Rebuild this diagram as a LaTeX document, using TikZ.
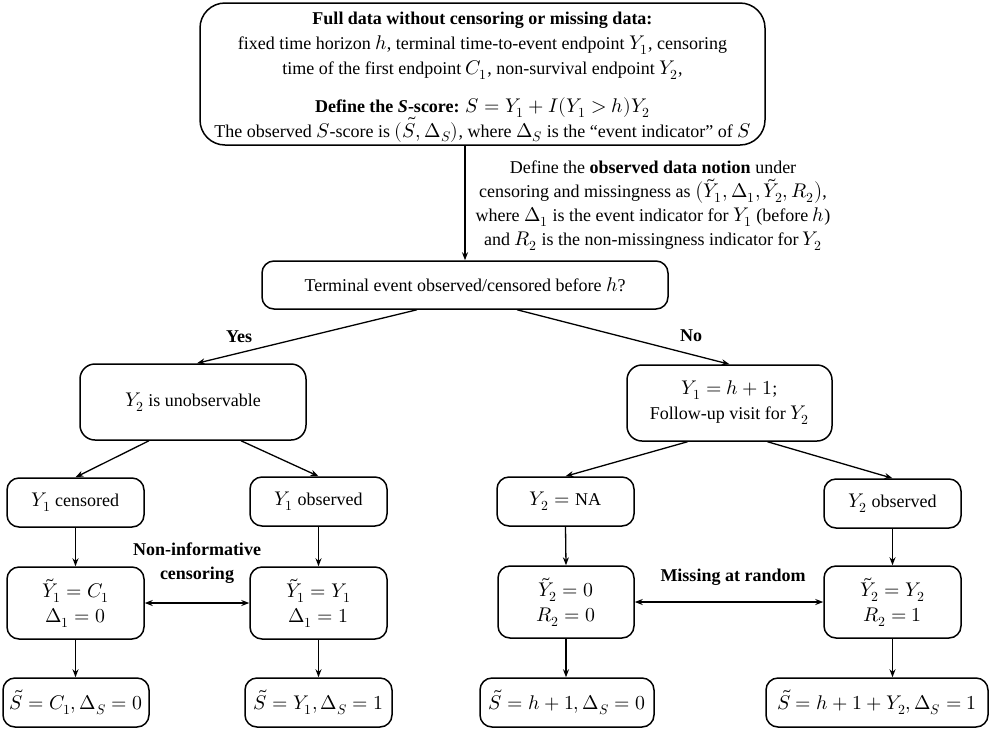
\documentclass[tikz,border=0pt]{standalone}
\usepackage{fontspec}
\usepackage{amsmath}
\usepackage{unicode-math}
\setmainfont{Liberation Serif}
\setmathfont{Latin Modern Math}[Scale=1.1]
\usetikzlibrary{arrows.meta,calc}
\begin{document}
\begin{tikzpicture}[x=1pt,y=-1pt,
  box/.style={draw,line width=1.5pt,rounded corners=12pt,align=center,inner sep=0pt,font=\fontsize{18}{25}\selectfont},
  arr/.style={line width=1.3pt,-{Stealth[length=8pt,width=6pt]}},
  darr/.style={line width=1.3pt,{Stealth[length=8pt,width=6pt]}-{Stealth[length=8pt,width=6pt]}},
  lbl/.style={font=\fontsize{18}{24}\selectfont\bfseries,align=center,inner sep=0pt},
  txt/.style={font=\fontsize{18}{24}\selectfont,align=center,inner sep=0pt}]
\useasboundingbox (0,0) rectangle (996,729);
\node[box,rounded corners=25pt,minimum width=565pt,minimum height=142pt] (top) at (482.5,74) {};
\node[txt] (toptext) at (482.5,77)
 {\textbf{Full data without censoring or missing data:}\\[1pt]
  fixed time horizon $h$, terminal time-to-event endpoint $Y_1$, censoring\\[1pt]
  time of the first endpoint $C_1$, non-survival endpoint $Y_2$,\\[14pt]
  \textbf{Define the \textit{S}-score:} $S = Y_1 + I(Y_1>h)Y_2$\\[-1pt]
  The observed $S$-score is $(\tilde{S},\Delta_S)$, where $\Delta_S$ is the ``event indicator'' of $S$};
\node[box,minimum width=406pt,minimum height=48pt] (dec) at (465,285) {Terminal event observed/censored before $h$?};
\node[txt] (note) at (653,206) {Define the \textbf{observed data notion} under\\
 censoring and missingness as $\big(\tilde{Y}_1,\Delta_1,\tilde{Y}_2,R_2\big)$,\\
 where $\mitDelta_1$ is the event indicator for $Y_1$ (before $h$)\\
 and $R_2$ is the non-missingness indicator for $Y_2$};
\node[box,rounded corners=15pt,minimum width=226pt,minimum height=76pt] (unobs) at (193,402) {$Y_2$ is unobservable};
\node[box,rounded corners=15pt,minimum width=205pt,minimum height=76pt] (hone) at (729.5,403) {$Y_1 = h+1$;\\Follow-up visit for $Y_2$};
\node[box,minimum width=137pt,minimum height=49pt] (ycens) at (75.5,502.5) {$Y_1$ censored};
\node[box,minimum width=137pt,minimum height=49pt] (yobs) at (318.5,501.5) {$Y_1$ observed};
\node[box,minimum width=137pt,minimum height=49pt] (yna) at (565.5,501.5) {$Y_2 = \mathrm{NA}$};
\node[box,minimum width=137pt,minimum height=49pt] (ytwo) at (892.5,503.5) {$Y_2$ observed};
\node[box,minimum width=137pt,minimum height=72pt] (tc) at (75.5,603) {$\tilde{Y}_1 = C_1$\\$\Delta_1 = 0$};
\node[box,minimum width=137pt,minimum height=72pt] (ty) at (318.5,603) {$\tilde{Y}_1 = Y_1$\\$\Delta_1 = 1$};
\node[box,minimum width=136pt,minimum height=72pt] (tz) at (566,602) {$\tilde{Y}_2 = 0$\\$R_2 = 0$};
\node[box,minimum width=137pt,minimum height=72pt] (tw) at (892.5,602) {$\tilde{Y}_2 = Y_2$\\$R_2 = 1$};
\node[box,minimum width=146pt,minimum height=49pt] (sa) at (76,702.5) {$\tilde{S} = C_1, \Delta_S = 0$};
\node[box,minimum width=147pt,minimum height=49pt] (sb) at (318.5,702.5) {$\tilde{S} = Y_1, \Delta_S = 1$};
\node[box,minimum width=174pt,minimum height=49pt] (sc) at (567,702.5) {$\tilde{S} = h+1, \Delta_S = 0$};
\node[box,minimum width=222pt,minimum height=49pt] (sd) at (877,702.5) {$\tilde{S} = h+1+Y_2, \Delta_S = 1$};
\node[lbl] (yes) at (239,337) {Yes};
\node[lbl] (no) at (691,336) {No};
\node[lbl] (nonin) at (197,563) {Non-informative\\censoring};
\node[lbl] (mar) at (733,577) {Missing at random};
% connectors
\draw[arr] (top.south -| dec.north) -- (dec.north);
\draw[arr] ($(dec.south)+(-48,0)$) -- ($(unobs.north)+(4,0)$);
\draw[arr] ($(dec.south)+(52,0)$) -- (hone.north);
\draw[arr] ($(unobs.south)+(-44,0)$) -- (ycens.north);
\draw[arr] ($(unobs.south)+(48,0)$) -- (yobs.north);
\draw[arr] ($(hone.south)+(-42,0)$) -- (yna.north);
\draw[arr] ($(hone.south)+(38,0)$) -- (ytwo.north);
\draw[arr] (ycens.south) -- (tc.north);
\draw[arr] (yobs.south) -- (ty.north);
\draw[arr] (yna.south) -- (tz.north);
\draw[arr] (ytwo.south) -- (tw.north);
\draw[arr] (tc.south) -- (tc.south |- sa.north);
\draw[arr] (ty.south) -- (ty.south |- sb.north);
\draw[arr] (tz.south) -- (tz.south |- sc.north);
\draw[arr] (tw.south) -- (tw.south |- sd.north);
\draw[darr] (tc.east) -- (ty.west);
\draw[darr] (tz.east) -- (tw.west);
\end{tikzpicture}
\end{document}
